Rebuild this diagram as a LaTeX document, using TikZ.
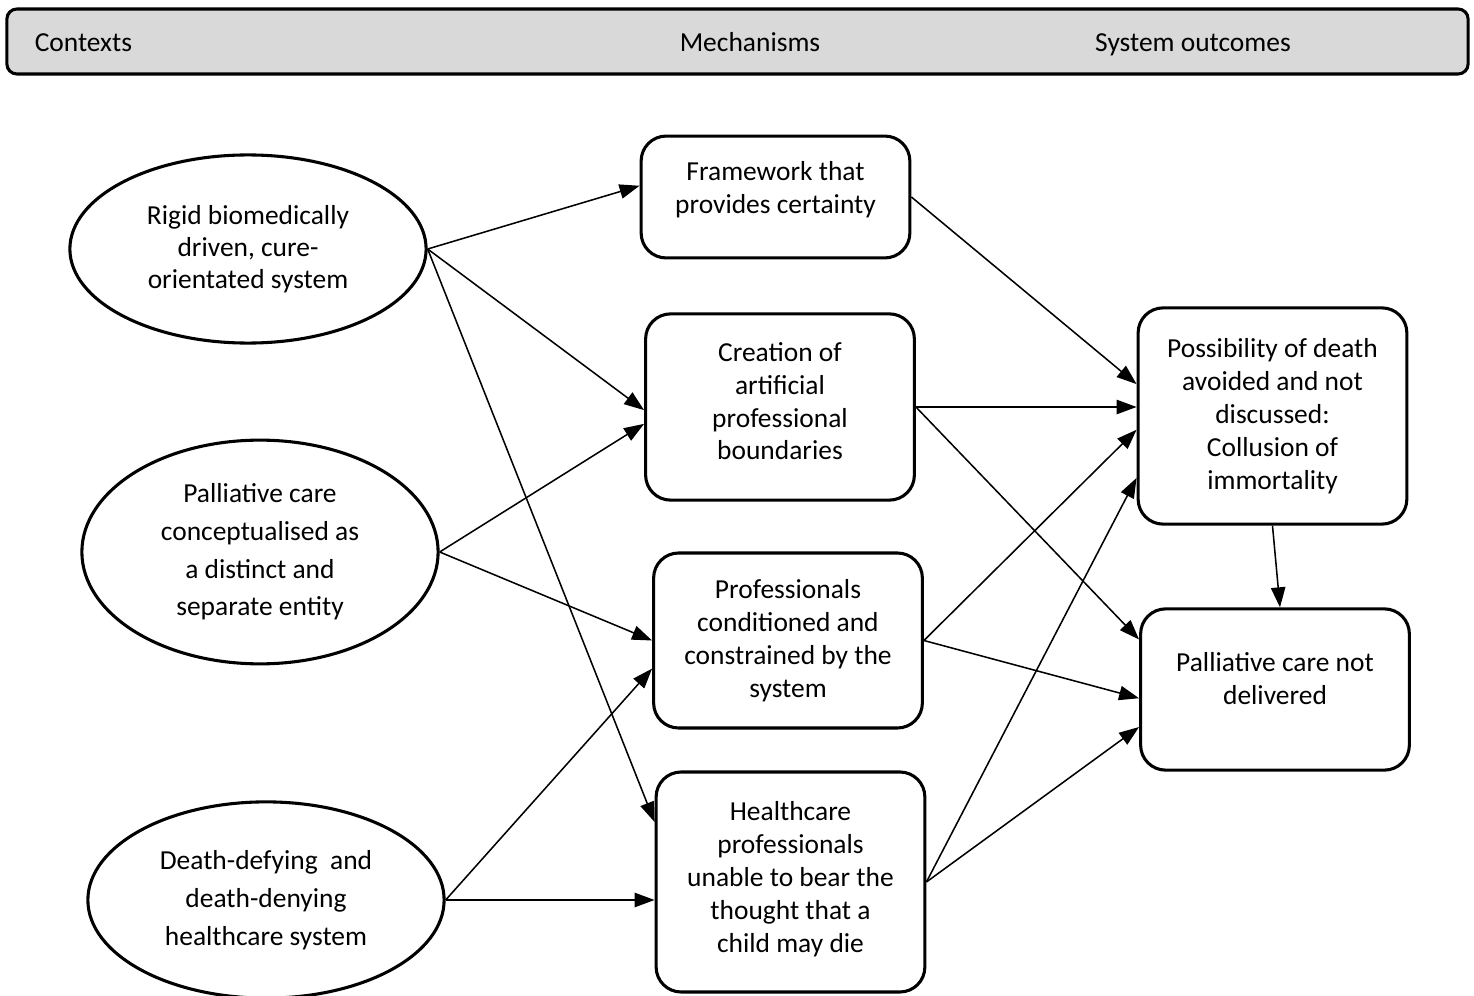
\documentclass[tikz,border=0pt]{standalone}
\usepackage{fontspec}
\setmainfont{Carlito}
\usepackage{tikz}
\usetikzlibrary{shapes.geometric, arrows.meta, positioning}
\definecolor{headgray}{HTML}{D9D9D9}
\tikzstyle{context} = [ellipse, draw=black, line width=1.4pt, minimum width=57mm, align=center, font=\fontsize{12.5}{17.2}\selectfont]
\tikzstyle{mechanism} = [rectangle, rounded corners=4mm, draw=black, line width=1.4pt, minimum width=43mm, align=center, font=\fontsize{12.5}{15}\selectfont]
\tikzstyle{header} = [rectangle, rounded corners=1.6mm, draw=black, line width=1.4pt, fill=headgray, minimum width=233.8mm, minimum height=10.4mm]
\tikzstyle{headtext} = [anchor=base, font=\fontsize{12.5}{15}\selectfont]
\tikzstyle{arrow} = [line width=0.7pt, -{Triangle[length=3.2mm, width=2.3mm]}]

\begin{document}
\begin{tikzpicture}[x=0.16mm, y=-0.16mm]
\useasboundingbox (0,0) rectangle (1474,996);

\node (head) [header] at (737.5,41.5) {};
\node (ctx) [headtext, anchor=base west] at (27,52) {Contexts};
\node (mech) [headtext] at (750,52) {Mechanisms};
\node (outc) [headtext] at (1193,52) {System outcomes};

\node (rigid) [context, minimum height=30.1mm, font=\fontsize{12.5}{14.5}\selectfont] at (248,249) {Rigid biomedically\\driven, cure-\\orientated system};
\node (palc) [context, minimum height=35.8mm] at (260,552) {Palliative care\\conceptualised as\\a distinct and\\separate entity};
\node (defy) [context, minimum height=31.4mm] at (266,900) {Death-defying\ \ and\\death-denying\\healthcare system};

\node (frame) [mechanism, minimum height=19.5mm, text depth=2.9mm] at (775.5,197) {Framework that\\provides certainty};
\node (bound) [mechanism, minimum height=29.8mm, text depth=1.9mm] at (780,407) {Creation of\\artificial\\professional\\boundaries};
\node (cond) [mechanism, minimum height=28mm] at (788,640.5) {Professionals\\conditioned and\\constrained by the\\system};
\node (bear) [mechanism, minimum height=35.2mm, text depth=1.6mm] at (790.5,882) {Healthcare\\professionals\\unable to bear the\\thought that a\\child may die};

\node (death) [mechanism, minimum height=34.6mm] at (1272.5,416) {Possibility of death\\avoided and not\\discussed:\\Collusion of\\immortality};
\node (notdel) [mechanism, minimum height=25.8mm, text depth=3.4mm] at (1275,689.5) {Palliative care not\\delivered};

\draw [arrow] (rigid.east) -- ([yshift=1.8mm]frame.west);
\draw [arrow] (rigid.east) -- ([yshift=-0.5mm]bound.west);
\draw [arrow] (rigid.east) -- ([yshift=9.6mm]bear.west);
\draw [arrow] (palc.east) -- ([yshift=-2.7mm]bound.west);
\draw [arrow] (palc.east) -- (cond.west);
\draw [arrow] (defy.east) -- ([yshift=-4.5mm]cond.west);
\draw [arrow] (defy.east) -- (defy.east -| bear.west);

\draw [arrow] (frame.east) -- ([yshift=5.1mm]death.west);
\draw [arrow] (bound.east) -- (bound.east -| death.west);
\draw [arrow] (bound.east) -- ([yshift=8mm]notdel.west);
\draw [arrow] (cond.east) -- ([yshift=-2.2mm]death.west);
\draw [arrow] (cond.east) -- ([yshift=-1.4mm]notdel.west);
\draw [arrow] (bear.east) -- ([yshift=-9.9mm]death.west);
\draw [arrow] (bear.east) -- ([yshift=-6mm]notdel.west);
\draw [arrow] (death.south) -- ([xshift=0.8mm]notdel.north);

\end{tikzpicture}
\end{document}
